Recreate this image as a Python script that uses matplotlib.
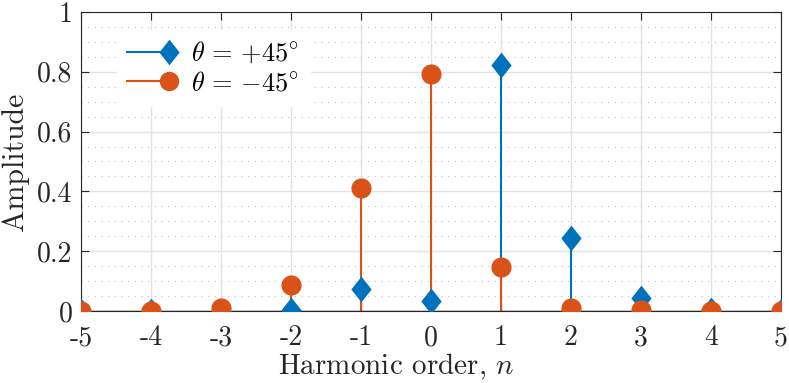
import numpy as np
import matplotlib
matplotlib.use("Agg")
import matplotlib.pyplot as plt
from matplotlib.legend_handler import HandlerLine2DCompound
from matplotlib.ticker import MultipleLocator

# harmonic orders and amplitudes
orders = [-5, -4, -3, -2, -1, 0, 1, 2, 3, 4, 5]
amp_pos45 = [0.0, 0.0, 0.0, 0.003, 0.073, 0.033, 0.823, 0.245, 0.043, 0.003, 0.0]
amp_neg45 = [0.0, 0.0, 0.011, 0.087, 0.413, 0.794, 0.148, 0.011, 0.003, 0.0, 0.0]
xtick_labels = ["-5", "-4", "-3", "-2", "-1", "0", "1", "2", "3", "4", "5"]
ytick_labels = ["0", "0.2", "0.4", "0.6", "0.8", "1"]

blue = "#0072BD"
orange = "#D95319"
axcol = "#262626"

# MATLAB-like diamond (a bit narrower than tall)
diamond = [(0, 1), (0.79, 0), (0, -1), (-0.79, 0), (0, 1)]

plt.rcParams["font.family"] = "serif"
plt.rcParams["font.serif"] = ["cmr10", "DejaVu Serif"]
plt.rcParams["mathtext.fontset"] = "cm"
plt.rcParams["axes.unicode_minus"] = False
plt.rcParams["axes.formatter.use_mathtext"] = True


class EndMarker(HandlerLine2DCompound):
    # put the legend marker at the right end of the line, like MATLAB's stem legend
    def get_xdata(self, legend, xdescent, ydescent, width, height, fontsize):
        xdata, _ = super().get_xdata(legend, xdescent, ydescent, width, height, fontsize)
        return xdata, np.array([xdata[-1]])


fig = plt.figure(figsize=(7.89, 3.83), dpi=100)
ax = fig.add_axes([0.1027, 0.188, 0.8872, 0.7807])

ml1, sl1, bl1 = ax.stem(orders, amp_pos45, basefmt=" ")
plt.setp(sl1, color=blue, linewidth=1.5)
plt.setp(ml1, color=blue, marker=diamond, markersize=18.5, markeredgewidth=0)

ml2, sl2, bl2 = ax.stem(orders, amp_neg45, basefmt=" ")
plt.setp(sl2, color=orange, linewidth=1.5)
plt.setp(ml2, color=orange, marker="o", markersize=14.5, markeredgewidth=0)
ml1.set_zorder(3)
ml2.set_zorder(4)

ax.axhline(0, color=axcol, linewidth=1.0, zorder=2)

ax.set_xlim(-5, 5)
ax.set_ylim(0, 1)
ax.set_xticks(orders)
ax.set_xticklabels(xtick_labels)
ax.set_yticks(np.arange(0, 1.01, 0.2))
ax.set_yticklabels(ytick_labels)
ax.yaxis.set_minor_locator(MultipleLocator(0.05))

ax.grid(True, which="major", color="#e3e3e3", linewidth=1.0, linestyle="-")
ax.grid(True, which="minor", axis="y", color="#c4c4c4", linewidth=0.8, linestyle=(0, (1, 5)))
ax.set_axisbelow(True)

ax.tick_params(which="major", direction="in", length=6, width=0.8, colors=axcol,
               labelsize=20, top=True, right=True)
ax.tick_params(axis="x", which="major", pad=10)
ax.tick_params(axis="y", which="major", pad=6)
ax.tick_params(which="minor", length=0, top=False, right=False, left=False)
for s in ax.spines.values():
    s.set_color(axcol)
    s.set_linewidth(0.8)

ax.set_xlabel("Harmonic order, $n$", fontsize=21, color=axcol)
ax.xaxis.set_label_coords(0.451, -0.135)
ax.xaxis.label.set_verticalalignment("top")
ax.set_ylabel("Amplitude", fontsize=21.5, color=axcol, labelpad=6)

h1 = plt.Line2D([], [], color=blue, linewidth=1.5, marker=diamond, markersize=18.5, markeredgewidth=0)
h2 = plt.Line2D([], [], color=orange, linewidth=1.5, marker="o", markersize=14, markeredgewidth=0)
leg = ax.legend([h1, h2], [r"$\theta\,=\,{+}45^{\circ}$", r"$\theta\,=\,{-}45^{\circ}$"],
                loc="upper left", bbox_to_anchor=(0.032, 0.985), fontsize=19,
                handlelength=1.6, handletextpad=0.83, labelspacing=0.2,
                frameon=True, fancybox=False, edgecolor="white", framealpha=1,
                handler_map={plt.Line2D: EndMarker(numpoints=1)})

fig.savefig("out.png", dpi=100)
